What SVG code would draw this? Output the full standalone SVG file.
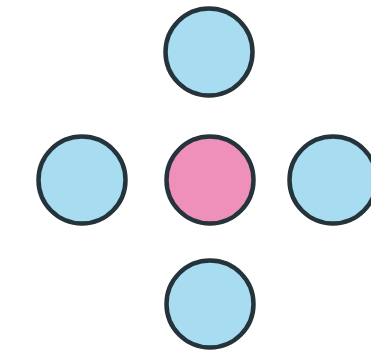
<svg xmlns="http://www.w3.org/2000/svg" width="371" height="359" viewBox="0 0 371 359">
<style>
.n{stroke:#25333b;stroke-width:4.5}
.b{fill:#a8dcf1}
.p{fill:#ef90bb}
</style>
<rect width="371" height="359" fill="#ffffff"/>
<g id="connectors"></g>
<g id="top"><circle class="n b" cx="209" cy="52" r="43.5"/></g>
<g id="left"><circle class="n b" cx="82" cy="180" r="43.5"/></g>
<g id="center"><circle class="n p" cx="210" cy="180" r="43.5"/></g>
<g id="right"><circle class="n b" cx="333" cy="180" r="43.5"/></g>
<g id="bottom"><circle class="n b" cx="210" cy="304" r="43.5"/></g>
</svg>
